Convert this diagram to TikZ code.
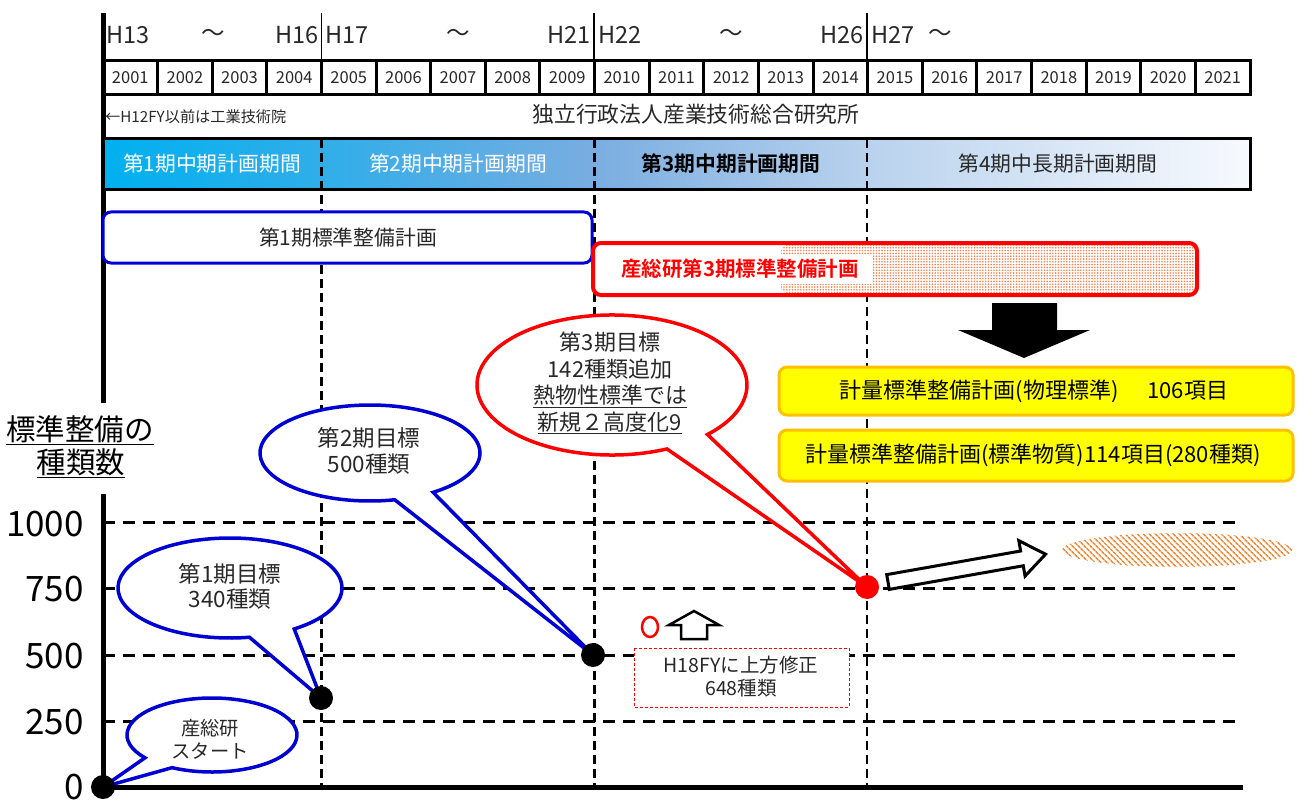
\documentclass[tikz,border=0pt]{standalone}
\usepackage{fontspec}
\setmainfont{Noto Sans CJK JP}[BoldFont={Noto Sans CJK JP Bold}]
\usetikzlibrary{patterns.meta}
\definecolor{bub}{RGB}{0,0,210}
\definecolor{rd}{RGB}{255,0,0}
\definecolor{yel}{RGB}{255,255,0}
\definecolor{gold}{RGB}{255,192,0}
\definecolor{dotc}{RGB}{245,130,80}
\definecolor{hatc}{RGB}{240,140,60}
\definecolor{txtg}{RGB}{40,40,40}
\pgfdeclarehorizontalshading{barshade}{100bp}{rgb(0bp)=(0,0.69,0.94); rgb(25bp)=(0,0.69,0.94); rgb(36bp)=(0.22,0.68,0.91); rgb(46.5bp)=(0.48,0.68,0.88); rgb(58bp)=(0.72,0.82,0.93); rgb(75bp)=(0.97,0.98,0.995); rgb(100bp)=(0.97,0.98,0.995)}
\newcommand{\fsz}[2]{\fontsize{#1}{#2}\selectfont}
\begin{document}
\begin{tikzpicture}[x=1pt,y=-1pt,
  lbl/.style={inner sep=0pt,text=txtg},
  yearbox/.style={draw=black,line width=3pt,minimum width=54.62pt,minimum height=34pt,inner sep=0pt,font=\fsz{16.5}{19},text=txtg},
  vgrid/.style={draw=black,line width=2.6pt,dash pattern=on 9pt off 5pt},
  hgrid/.style={draw=black,line width=3pt,dash pattern=on 12pt off 8pt},
  hsep/.style={draw=black,line width=1.5pt},
  bubblue/.style={draw=bub,line width=3.5pt,fill=white,line join=miter},
  bubred/.style={draw=rd,line width=3.5pt,fill=white,line join=miter},
  ptdot/.style={circle,fill=black,minimum size=24pt,inner sep=0pt},
  ybox/.style={draw=gold,fill=yel,line width=3pt,rounded corners=8pt},
  tick/.style={inner sep=0pt,anchor=east,font=\fsz{35}{40},text=black},
  hdr/.style={lbl,font=\fsz{23.5}{27}}
]
\useasboundingbox (0,0) rectangle (1301,805);

% ---------- header rows ----------
\draw[line width=5pt] (103,13) -- (103,403);
\foreach \x in {321.5,594.2,866.8} \draw[hsep] (\x,13) -- (\x,61);
\node[hdr,anchor=west] (h13) at (106,35) {H13};
\node[hdr] (t1) at (213,35) {～};
\node[hdr,anchor=east] (h16) at (319,35) {H16};
\node[hdr,anchor=west] (h17) at (325,35) {H17};
\node[hdr] (t2) at (458,35) {～};
\node[hdr,anchor=east] (h21) at (591,35) {H21};
\node[hdr,anchor=west] (h22) at (598,35) {H22};
\node[hdr] (t3) at (731,35) {～};
\node[hdr,anchor=east] (h26) at (864,35) {H26};
\node[hdr,anchor=west] (h27) at (871,35) {H27};
\node[hdr] (t4) at (940,35) {～};

\foreach \i in {0,...,20}{
  \pgfmathtruncatemacro{\yr}{2001+\i}
  \node[yearbox] (yr\yr) at ({103+(\i+0.5)*54.62},78) {\yr};
}

\node[lbl,anchor=west,font=\fsz{15.2}{18}] (aist0) at (105,117) {←H12FY以前は工業技術院};
\node[lbl,font=\fsz{21.8}{25}] (aist) at (696,114) {独立行政法人産業技術総合研究所};

% ---------- period bar ----------
\shade[shading=barshade] (103,139) rectangle (1250,190);
\foreach \x in {321.5,594.2,866.8} \draw[vgrid] (\x,139) -- (\x,787);
\draw[line width=3pt] (103,139) rectangle (1250,190);
\node[inner sep=0pt,text=white,font=\fsz{20.8}{24}] (per1) at (212,164) {第1期中期計画期間};
\node[inner sep=0pt,text=white,font=\fsz{20.8}{24}] (per2) at (458,164) {第2期中期計画期間};
\node[inner sep=0pt,text=black,font=\bfseries\fsz{20.8}{24}] (per3) at (731,164) {第3期中期計画期間};
\node[lbl,font=\fsz{20.8}{24}] (per4) at (1058,164) {第4期中長期計画期間};

% ---------- plan boxes ----------
\draw[draw=bub,line width=3pt,fill=white,rounded corners=8pt] (103,212) rectangle (592,263);
\node[lbl,font=\fsz{20.8}{24}] (plan1) at (348,238) {第1期標準整備計画};

\draw[fill=white,draw=none,rounded corners=8pt] (593,243) rectangle (1197,295);
\fill[pattern={Dots[distance=2.8pt,radius=0.9pt]},pattern color=dotc,rounded corners=6pt] (781,245) rectangle (1195,293);
\fill[white] (600,255) rectangle (873,284);
\draw[draw=rd,line width=4pt,rounded corners=8pt] (593,243) rectangle (1197,295);
\node[inner sep=0pt,text=rd,font=\bfseries\fsz{20.5}{24}] (plan3) at (740,269) {産総研第3期標準整備計画};

% black down arrow
\fill[black] (992,303) -- (1057,303) -- (1057,330) -- (1090,330) -- (1024,358) -- (958,330) -- (992,330) -- cycle;

% yellow boxes
\draw[ybox] (779,367) rectangle (1293,415);
\node[inner sep=0pt,text=black,font=\fsz{22}{26}] (ms1) at (1034,391) {計量標準整備計画(物理標準)\hspace{1.3em}106項目};
\draw[ybox] (779,430) rectangle (1293,481);
\node[inner sep=0pt,text=black,font=\fsz{22}{26}] (ms2) at (1033,455) {計量標準整備計画(標準物質)114項目(280種類)};

% ---------- chart ----------
\foreach \y in {522,588,655,721} \draw[hgrid] (103,\y) -- (1240,\y);
\draw[line width=5pt] (103,494) -- (103,789);
\draw[line width=5pt] (101,787) -- (1243,787);

\node[tick] (v1000) at (84,524) {1000};
\node[tick] (v750) at (84,589) {750};
\node[tick] (v500) at (84,656) {500};
\node[tick] (v250) at (84,722) {250};
\node[tick] (v0) at (84,787) {0};

\node[inner sep=0pt,text=black,font=\fsz{29.5}{34}] (ylab1) at (80,430) {\underline{標準整備の}};
\node[inner sep=0pt,text=black,font=\fsz{29.5}{34}] (ylab2) at (81,463) {\underline{種類数}};

% points (coordinates used as bubble tips)
\coordinate (p0) at (103,787);
\coordinate (p1) at (321,698);
\coordinate (p2) at (593,655);
\coordinate (p3) at (867,587);

% bubbles
\draw[bubblue] (212,735) ++(142:85 and 37) arc[start angle=142,end angle=478,x radius=85,y radius=37] -- (p0) -- cycle;
\node[lbl,align=center,font=\fsz{19.3}{23}] (b1) at (210,739) {産総研\\スタート};

\draw[bubblue] (230,588) ++(80:112 and 50) arc[start angle=80,end angle=415,x radius=112,y radius=50] -- (p1) -- cycle;
\node[lbl,align=center,font=\fsz{22.5}{25}] (b2) at (230,586) {第1期目標\\340種類};

\draw[bubblue] (370,453) ++(77:110 and 48) arc[start angle=77,end angle=415,x radius=110,y radius=48] -- (p2) -- cycle;
\node[lbl,align=center,font=\fsz{22.5}{26}] (b3) at (369,451) {第2期目標\\500種類};

\draw[bubred] (612,385) ++(66:135 and 70) arc[start angle=66,end angle=405,x radius=135,y radius=70] -- (p3) -- cycle;
\node[lbl,align=center,font=\fsz{22}{26.5}] (b4) at (610,383) {第3期目標\\142種類追加\\\underline{熱物性標準では}\\\underline{新規２高度化9}};

\node[ptdot] (d0) at (p0) {};
\node[ptdot] (d1) at (p1) {};
\node[ptdot] (d2) at (p2) {};
\node[ptdot,fill=rd] (d3) at (p3) {};

% revision note
\draw[rd,line width=2.5pt] (650,627) ellipse [x radius=8,y radius=10];
\draw[line width=2.5pt,fill=white,line join=miter] (694,611) -- (719,625) -- (707,625) -- (707,639) -- (681,639) -- (681,625) -- (669,625) -- cycle;
\draw[rd,line width=1pt,dash pattern=on 3pt off 2pt,fill=white] (634,648) rectangle (849,707);
\node[lbl,align=center,font=\fsz{19.5}{23}] (rev) at (741,677) {H18FYに上方修正\\648種類};

% outline arrow to future
\begin{scope}[shift={(888,582)},rotate=10]
\draw[line width=3pt,fill=white,line join=miter] (0,-7.5) -- (136,-7.5) -- (136,-18) -- (160,0) -- (136,18) -- (136,7.5) -- (0,7.5) -- cycle;
\end{scope}

% future hatched ellipse
\fill[pattern={Lines[angle=-45,distance=4pt,line width=1.7pt]},pattern color=hatc] (1177,550) ellipse [x radius=115,y radius=17];
\end{tikzpicture}
\end{document}
